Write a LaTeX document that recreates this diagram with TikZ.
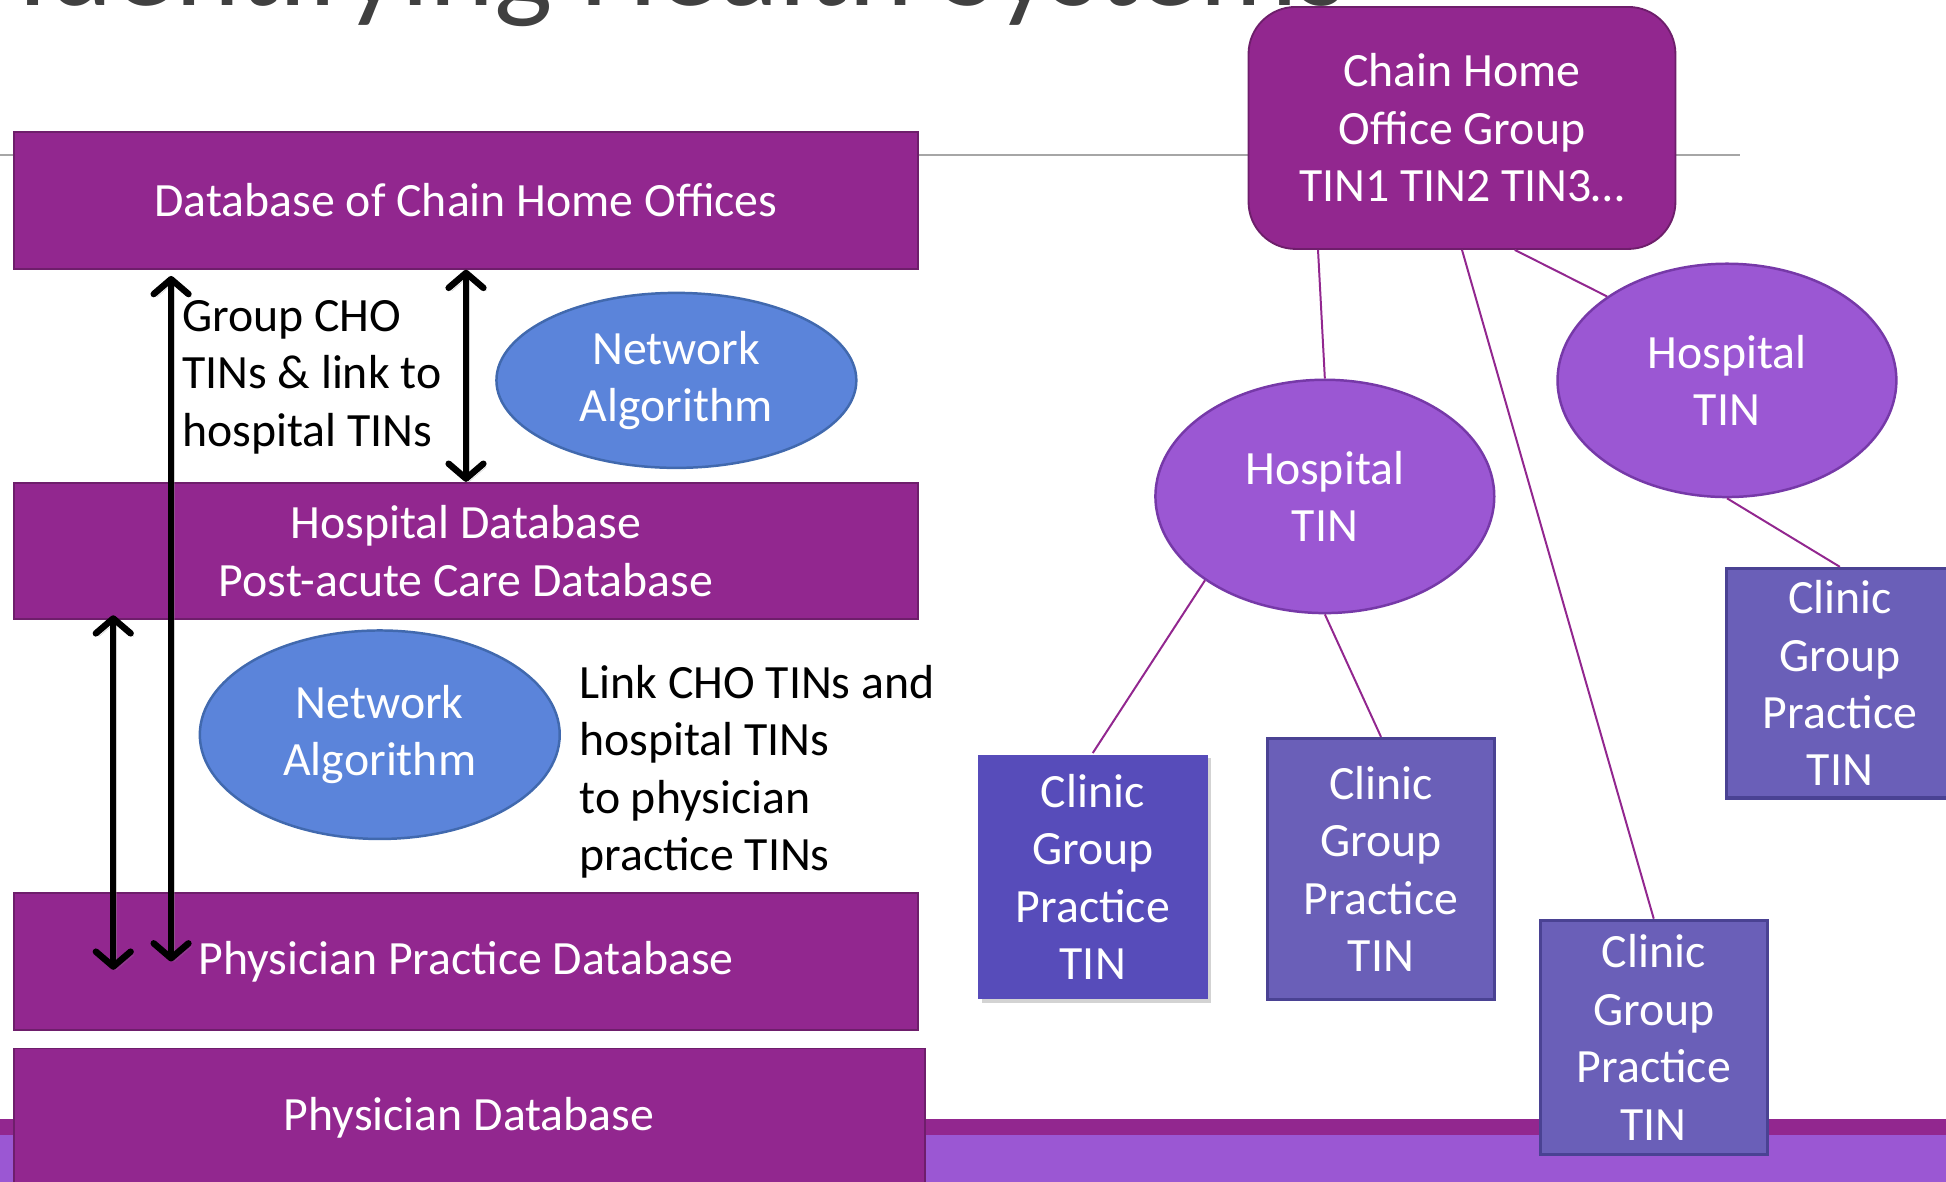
\documentclass[tikz,border=0pt]{standalone}
\usepackage{fontspec}
\setmainfont{Carlito}
\usetikzlibrary{arrows.meta,shapes.geometric,shadows}
\definecolor{chopurple}{HTML}{92278F}
\definecolor{chodark}{HTML}{6E1E6B}
\definecolor{algoblue}{HTML}{5B84DA}
\definecolor{algoedge}{HTML}{4169AE}
\definecolor{hospviolet}{HTML}{9B57D3}
\definecolor{hospedge}{HTML}{7639A8}
\definecolor{clinicblue}{HTML}{6A5FB8}
\definecolor{clinicedge}{HTML}{4A4293}
\definecolor{clinicdeep}{HTML}{574CBA}
\definecolor{titlegray}{HTML}{404040}
\newcommand\boxfont{\fontsize{38.5}{46.3}\selectfont}
\tikzset{
  database box/.style={draw=chodark, line width=1.5pt, fill=chopurple, text=white,
    minimum width=729pt, minimum height=110pt, inner sep=0pt, align=center, font=\boxfont},
  network ellipse/.style={ellipse, draw=algoedge, line width=2pt, fill=algoblue, text=white,
    minimum width=290pt, minimum height=141pt, inner sep=0pt, align=center, font=\boxfont},
  hospital tin/.style={ellipse, draw=hospedge, line width=2pt, fill=hospviolet, text=white,
    minimum width=273pt, minimum height=188pt, inner sep=0pt, align=center, font=\boxfont},
  clinic tin/.style={draw=clinicedge, line width=2.5pt, fill=clinicblue, text=white,
    minimum width=183pt, inner sep=0pt, align=center, font=\boxfont},
  note text/.style={anchor=west, inner sep=0pt, align=left, font=\boxfont},
  tin link/.style={draw=chopurple, line width=1.6pt},
  data arrow/.style={line width=5.2pt, line cap=round,
    {Straight Barb[length=12pt,width=28pt,round]}-{Straight Barb[length=12pt,width=28pt,round]},
    preaction={draw=black!45, opacity=.4, transform canvas={shift={(2.5pt,-2.5pt)}}}},
}

\begin{document}
\begin{tikzpicture}[x=1pt,y=-1pt]
  \useasboundingbox (0,0) rectangle (1568,952);
  \clip (0,0) rectangle (1568,952);
  % title and rule
  \node[anchor=base west, inner sep=0pt, text=titlegray, font=\fontsize{99.5}{110}\selectfont] (title) at (14,4.5) {Identifying Health Systems};
  \draw[black!35, line width=1.3pt] (0,125) -- (1402,125);
  % footer band
  \fill[chopurple] (0,902) rectangle (1568,914.6);
  \fill[hospviolet] (0,914.6) rectangle (1568,952);

  % left: databases
  \node[database box] (dbcho) at (375.5,161.6) {Database of Chain Home Offices};
  \node[database box] (dbhosp) at (375.5,444) {Hospital Database\\Post-acute Care Database};
  \node[database box] (dbpract) at (375.5,774.7) {Physician Practice Database};
  \node[database box, minimum width=734pt, minimum height=112pt] (dbphys) at (378,900.8) {Physician Database};
  \node[network ellipse] (algoa) at (545,306.5) {Network\\Algorithm};
  \node[network ellipse, minimum height=168pt] (algob) at (306,592) {Network\\Algorithm};
  \node[note text] (grouptxt) at (146.5,304) {Group CHO\\TINs \& link to\\hospital TINs};
  \node[note text] (linktxt) at (466.7,622) {Link CHO TINs and\\hospital TINs\\to physician\\practice TINs};
  \draw[data arrow] ([xshift=127.6pt,yshift=-5pt]dbcho.south west) -- ([xshift=127.6pt]dbpract.west);
  \draw[data arrow] (dbcho.south) -- (dbhosp.north);
  \draw[data arrow] ([xshift=81pt,yshift=4pt]dbhosp.south west) -- ([xshift=81pt,yshift=-6.7pt]dbpract.west);

  % right: chain home office tree
  \node[database box, minimum width=344pt, minimum height=195pt, rounded corners=38pt] (cho) at (1178,103.1) {Chain Home\\Office Group\\TIN1 TIN2 TIN3…};
  \node[hospital tin] (hospa) at (1067.5,400) {Hospital\\TIN};
  \node[hospital tin] (hospb) at (1391.5,306.5) {Hospital\\TIN};
  \node[clinic tin, draw=none, fill=clinicdeep, minimum width=185pt, minimum height=197pt,
    drop shadow={shadow xshift=3pt, shadow yshift=-3pt, opacity=.35}] (clina) at (880.5,706.5) {Clinic\\Group\\Practice\\TIN};
  \node[clinic tin, minimum width=182.5pt, minimum height=210pt] (clinb) at (1112.75,700) {Clinic\\Group\\Practice\\TIN};
  \node[clinic tin, minimum height=188.5pt] (clinc) at (1332.5,835.75) {Clinic\\Group\\Practice\\TIN};
  \node[clinic tin, minimum height=185pt] (clind) at (1482.5,550.5) {Clinic\\Group\\Practice\\TIN};
  \draw[tin link] ([xshift=-5.5pt]cho.south -| hospa.north) -- (hospa.north);
  \draw[tin link] (cho.south) -- (clinc.north);
  \draw[tin link] ([xshift=42.5pt]cho.south) -- (hospb.145);
  \draw[tin link] (hospb.south) -- (clind.north);
  \draw[tin link] (hospa.215) -- (clina.north);
  \draw[tin link] (hospa.south) -- (clinb.north);
\end{tikzpicture}
\end{document}
